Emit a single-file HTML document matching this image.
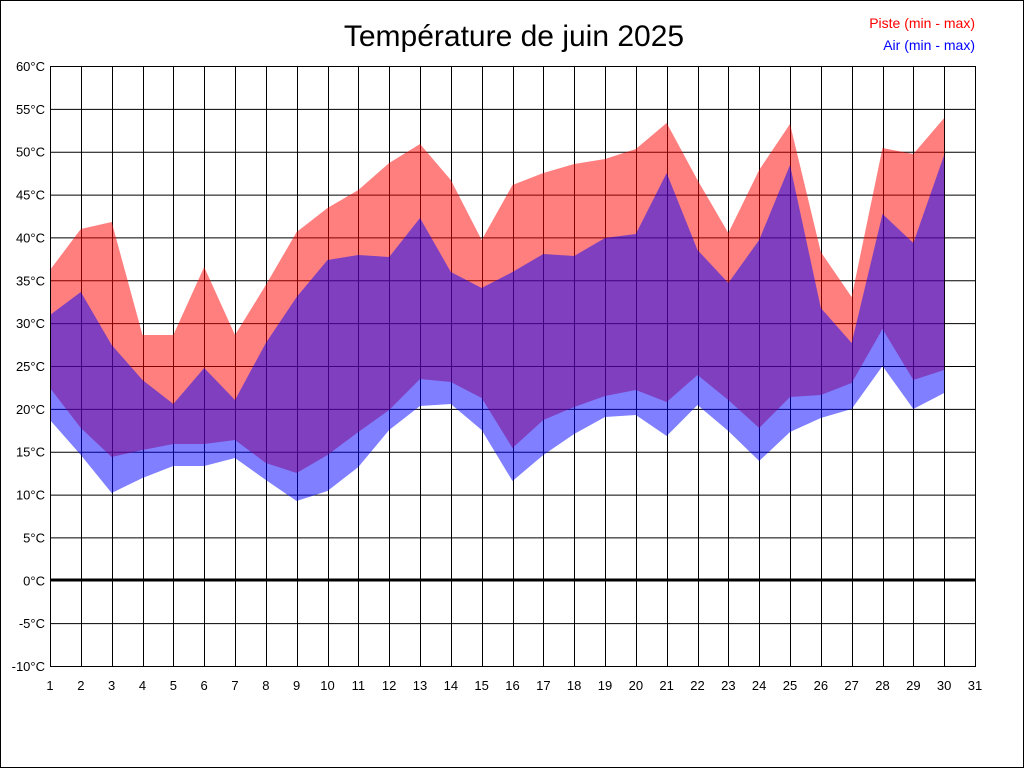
<!DOCTYPE html>
<html><head><meta charset="utf-8"><style>
body{margin:0;background:#fff}
svg{display:block}
text{font-family:"Liberation Sans",Arial,sans-serif}
</style></head><body>
<svg width="1024" height="768" xmlns="http://www.w3.org/2000/svg">
<rect x="0.5" y="0.5" width="1023" height="767" fill="#fff" stroke="#000"/>
<text x="514" y="46" font-size="30" text-anchor="middle">Température de juin 2025</text>
<text x="975" y="28" font-size="14" fill="#f00" text-anchor="end">Piste (min - max)</text>
<text x="975" y="50" font-size="14" fill="#00f" text-anchor="end">Air (min - max)</text>
<g id="grid" stroke="#000" stroke-width="1"></g>
<g id="fills"></g>
<g id="labels" font-size="13"></g>
<rect x="50.5" y="66.5" width="925" height="600" fill="none" stroke="#000"/>
<line x1="50" y1="580" x2="975" y2="580" stroke="#000" stroke-width="3"/>
<script>
var X=d=>50+(d-1)*925/30;
var g=document.getElementById('grid'),l=document.getElementById('labels'),ns='http://www.w3.org/2000/svg';
function el(p,t,a,txt){var e=document.createElementNS(ns,t);for(var k in a)e.setAttribute(k,a[k]);if(txt)e.textContent=txt;p.appendChild(e);}
for(var i=0;i<=14;i++){var y=66+i*600/14;el(g,'line',{x1:50,x2:975,y1:y+.5,y2:y+.5});
el(l,'text',{x:45,y:y+5,'text-anchor':'end'},(60-5*i)+'°C');}
for(var d=1;d<=31;d++){var x=Math.round(X(d))+.5;el(g,'line',{x1:x,x2:x,y1:66,y2:666});
el(l,'text',{x:X(d),y:690,'text-anchor':'middle'},d);}
var pmax=[270,229,222,335,335,267,335,285,232,208,190,163,144,180,240,185,173,164,159,149,123,180,233,170,124,252,297,148,154,118];
var pmin=[388,428,457,450,444,444,440,463,473,455,432,410,379,382,398,448,420,407,396,390,402,375,400,428,397,395,383,329,380,370];
var amax=[315,292,345,380,404,368,400,343,297,260,255,257,218,272,288,272,254,256,238,234,173,250,283,240,165,308,343,214,243,155];
var amin=[420,455,493,478,466,466,458,480,501,491,467,430,406,404,430,481,455,434,417,415,436,405,431,461,432,418,409,366,409,393];
function poly(top,bot,c){var p=[];top.forEach((v,i)=>p.push(X(i+1)+','+v));for(var i=bot.length-1;i>=0;i--)p.push(X(i+1)+','+bot[i]);
el(document.getElementById('fills'),'polygon',{points:p.join(' '),fill:c,'fill-opacity':0.5});}
poly(pmax,pmin,'#ff0000');poly(amax,amin,'#0000ff');
</script>
</svg>
</body></html>
